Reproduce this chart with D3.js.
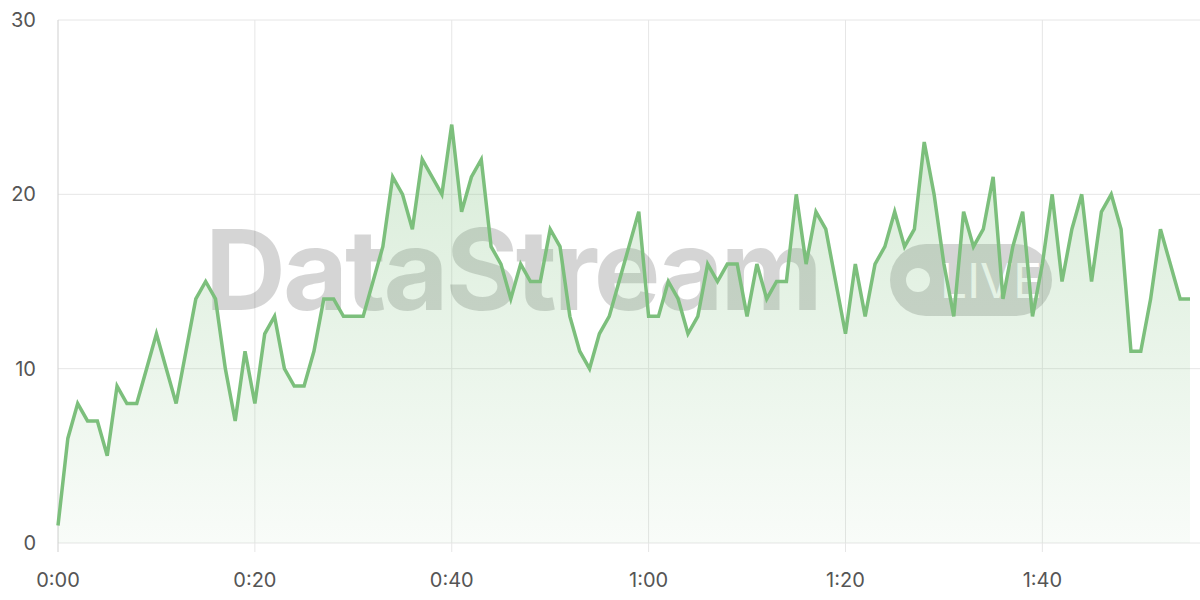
<!DOCTYPE html>
<html><head><meta charset="utf-8">
<script src="https://cdn.jsdelivr.net/npm/d3@7"></script>
<style>body{margin:0;background:#fff;font-family:Inter,"Noto Sans",sans-serif}</style>
</head><body>
<script>
// values read per second, 0..115
var values = [1,6,8,7,7,5,9,8,8,10,12,10,8,11,14,15,14,10,7,11,
  8,12,13,10,9,9,11,14,14,13,13,13,15,17,21,20,18,22,21,20,
  24,19,21,22,17,16,14,16,15,15,18,17,13,11,10,12,13,15,17,19,
  13,13,15,14,12,13,16,15,16,16,13,16,14,15,15,20,16,19,18,15,
  12,16,13,16,17,19,17,18,23,20,16,13,19,17,18,21,14,17,19,13,
  16,20,15,18,20,15,19,20,18,11,11,14,18,16,14,14];
var xTicks = [0,20,40,60,80,100];
var yTicks = [0,10,20,30];

var w = 1200, h = 600;
var svg = d3.select("body").append("svg").attr("width", w).attr("height", h);

var x = d3.scaleLinear().domain([0, 115]).range([58, 1190]);
var y = d3.scaleLinear().domain([0, 30]).range([543, 20]);

function fmt(s) { return Math.floor(s/60) + ":" + d3.format("02")(s%60); }

var grad = svg.append("defs").append("linearGradient")
  .attr("id", "g").attr("x1", 0).attr("y1", 0).attr("x2", 0).attr("y2", 1);
grad.append("stop").attr("offset", "0%").attr("stop-color", "#7cbf7c").attr("stop-opacity", 0.3);
grad.append("stop").attr("offset", "100%").attr("stop-color", "#7cbf7c").attr("stop-opacity", 0.05);

// grid
svg.selectAll(".hg").data(yTicks).enter().append("line")
  .attr("x1", 58).attr("x2", 1200).attr("y1", d => y(d)).attr("y2", d => y(d))
  .attr("stroke", "#e6e6e6").attr("stroke-width", 1);
svg.selectAll(".vg").data(xTicks).enter().append("line")
  .attr("x1", d => x(d)).attr("x2", d => x(d)).attr("y1", 20).attr("y2", 552)
  .attr("stroke", d => d == 0 ? "#cfcfcf" : "#e6e6e6").attr("stroke-width", 1);

// watermark
var wm = svg.append("g").attr("opacity", 0.16);
wm.append("text").attr("x", 205).attr("y", 310).attr("font-size", 112)
  .attr("font-weight", "bold").attr("fill", "#000").attr("letter-spacing", -3).text("DataStream");
wm.append("rect").attr("x", 890).attr("y", 244).attr("width", 162).attr("height", 72)
  .attr("rx", 36).attr("fill", "#000");
wm.append("circle").attr("cx", 918).attr("cy", 280).attr("r", 12).attr("fill", "#fff");
wm.append("text").attr("x", 940).attr("y", 298).attr("font-size", 48)
  .attr("fill", "#fff").text("LIVE");

// area + line
svg.append("path").datum(values)
  .attr("fill", "url(#g)")
  .attr("d", d3.area().x((d, i) => x(i)).y0(y(0)).y1(d => y(d)));
svg.append("path").datum(values)
  .attr("fill", "none").attr("stroke", "#7cbf7c").attr("stroke-width", 3.5)
  .attr("stroke-linejoin", "miter")
  .attr("d", d3.line().x((d, i) => x(i)).y(d => y(d)));

// labels
svg.selectAll(".yl").data(yTicks).enter().append("text")
  .attr("x", 36).attr("y", d => y(d) + 7).attr("text-anchor", "end")
  .attr("font-size", 20).attr("fill", "#555").text(d => d);
svg.selectAll(".xl").data(xTicks).enter().append("text")
  .attr("x", d => x(d)).attr("y", 587).attr("text-anchor", "middle")
  .attr("font-size", 20).attr("fill", "#555").text(d => fmt(d));
</script>
</body></html>
